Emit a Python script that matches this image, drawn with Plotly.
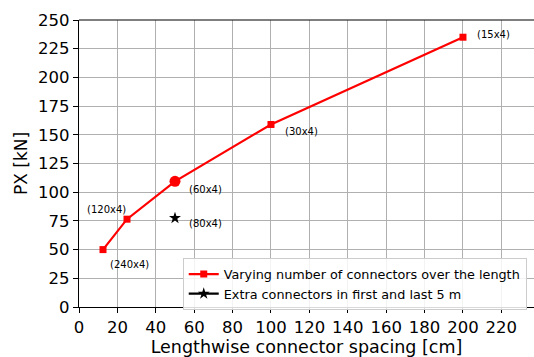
import plotly.graph_objects as go

spacing = [12.5, 25, 50, 100, 200]
px_force = [50, 76.5, 109.5, 159, 235]
extra_x = [50]
extra_y = [77.5]
labels = ["(240x4)", "(120x4)", "(60x4)", "(30x4)", "(15x4)"]
label_x = [15.1, 3.1, 56.3, 106.3, 206.3]
label_y = [37.3, 84.5, 102.6, 153, 237]
extra_label = "(80x4)"
extra_label_x = 56.3
extra_label_y = 72.9

font = "DejaVu Sans, sans-serif"
fig = go.Figure()
fig.add_trace(go.Scatter(x=spacing, y=px_force, mode="lines+markers",
                         line=dict(color="red", width=2.2),
                         marker=dict(symbol="square", size=7, color="red"),
                         name="Varying number of connectors over the length"))
fig.add_trace(go.Scatter(x=[spacing[2]], y=[px_force[2]], mode="markers",
                         marker=dict(symbol="circle", size=11, color="red"),
                         showlegend=False))
fig.add_trace(go.Scatter(x=extra_x, y=extra_y, mode="lines+markers",
                         line=dict(color="black", width=2.2),
                         marker=dict(symbol="star", size=9, color="black"),
                         name="Extra connectors in first and last 5 m"))

for t, x, y in zip(labels, label_x, label_y):
    fig.add_annotation(x=x, y=y, text=t, showarrow=False, xanchor="left",
                       yanchor="middle", font=dict(size=10, color="black", family=font))
fig.add_annotation(x=extra_label_x, y=extra_label_y, text=extra_label, showarrow=False,
                   xanchor="left", yanchor="middle", font=dict(size=10, color="black", family=font))

fig.add_shape(type="line", xref="paper", yref="paper", x0=0, x1=1, y0=1, y1=1,
              line=dict(color="black", width=1.2))

fig.update_layout(
    width=534, height=357,
    margin=dict(l=79, r=0, t=20, b=50),
    plot_bgcolor="white", paper_bgcolor="white",
    font=dict(family=font, color="black"),
    showlegend=True,
    legend=dict(x=0.228, y=0.17, xanchor="left", yanchor="top",
                bgcolor="rgba(255,255,255,0.85)", bordercolor="#cccccc", borderwidth=1,
                font=dict(size=12.8, family=font, color="black"),
                tracegroupgap=0, itemwidth=30),
    xaxis=dict(range=[0, 237], dtick=20, tick0=0, showgrid=True, gridcolor="#b0b0b0",
               gridwidth=0.8, showline=True, linecolor="black", linewidth=1.2,
               ticks="outside", ticklen=5, tickcolor="black", zeroline=False,
               automargin=False,
               tickfont=dict(size=16.5, family=font, color="black"),
               title=dict(text="Lengthwise connector spacing [cm]", standoff=2,
                          font=dict(size=17.5, family=font, color="black"))),
    yaxis=dict(range=[0, 250], dtick=25, tick0=0, showgrid=True, gridcolor="#b0b0b0",
               gridwidth=0.8, showline=True, linecolor="black", linewidth=1.2,
               ticks="outside", ticklen=5, tickcolor="black", zeroline=False,
               automargin=False,
               tickfont=dict(size=16.5, family=font, color="black"),
               title=dict(text="PX [kN]", standoff=6,
                          font=dict(size=17, family=font, color="black"))),
)
fig.write_html("out.html", config={"displayModeBar": False},
               post_script="document.body.style.margin='0';")
